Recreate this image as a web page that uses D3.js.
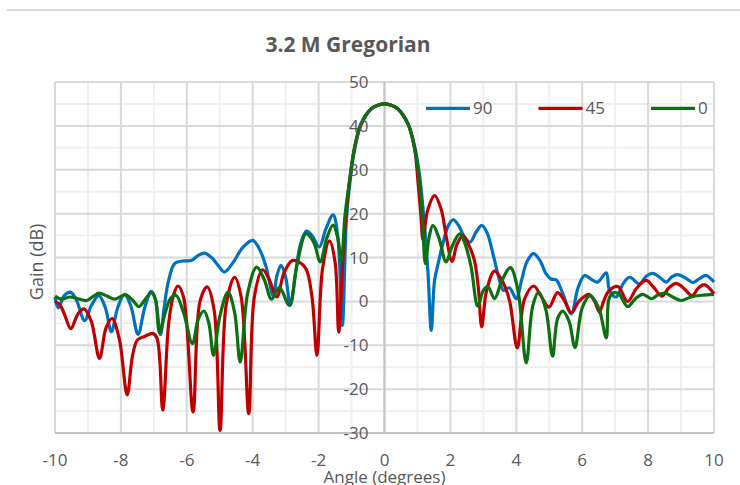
<!DOCTYPE html>
<html>
<head>
<meta charset="utf-8">
<script src="https://cdn.jsdelivr.net/npm/d3@7"></script>
<style>
  body { margin: 0; background: #fff; }
  text { font-family: "Open Sans", sans-serif; fill: #595959; }
</style>
</head>
<body>
<div id="wrapper"></div>
<script>
// angle (deg), gain (dB)
const series90 = [
  [-10.0, 1.0], [-9.9, -1.5], [-9.72, 1.3], [-9.53, 2.1], [-9.35, 0.3], [-9.1, -4.4],
  [-8.9, -1.0], [-8.67, 1.3], [-8.47, -1.5], [-8.29, -6.9], [-8.1, -1.5], [-7.89, 1.6],
  [-7.7, -1.0], [-7.48, -7.5], [-7.28, -1.5], [-7.08, 2.3], [-6.95, 0.3], [-6.8, -7.6],
  [-6.68, -1.0], [-6.56, 4.5], [-6.37, 8.6], [-6.12, 9.2], [-5.87, 9.3], [-5.65, 10.5],
  [-5.46, 11.0], [-5.25, 10.0], [-5.06, 8.3], [-4.86, 6.7], [-4.6, 8.8], [-4.3, 12.3],
  [-4.0, 13.9], [-3.8, 12.0], [-3.59, 7.8], [-3.38, 1.3], [-3.26, 6.0], [-3.14, 8.2],
  [-3.0, 5.5], [-2.86, -0.9], [-2.7, 6.5], [-2.55, 13.0], [-2.37, 16.0], [-2.2, 15.0],
  [-1.98, 12.4], [-1.78, 16.5], [-1.56, 19.7], [-1.42, 15.0], [-1.28, -5.5], [-1.16, 18.0],
  [-1.06, 26.5], [-0.91, 34.5], [-0.71, 40.3], [-0.4, 43.9], [-0.2, 44.7], [0, 45.0],
  [0.2, 44.7], [0.4, 43.9], [0.71, 40.5], [0.91, 35.5], [1.06, 29.0], [1.2, 18.5],
  [1.32, 6.5], [1.42, -6.6], [1.52, 4.8], [1.64, 9.0], [1.8, 14.0], [1.95, 17.5],
  [2.09, 18.6], [2.25, 17.3], [2.43, 14.6], [2.6, 13.5], [2.78, 15.8], [2.96, 17.3],
  [3.12, 15.5], [3.29, 10.9], [3.49, 4.8], [3.61, 2.5], [3.79, 3.1], [4.0, 0.6],
  [4.15, 4.5], [4.32, 9.0], [4.52, 10.9], [4.72, 9.3], [4.9, 6.3], [5.05, 5.1],
  [5.21, 4.9], [5.4, 2.0], [5.67, -2.8], [5.87, 3.0], [6.07, 5.9], [6.28, 5.0],
  [6.47, 4.4], [6.73, 6.5], [6.83, 2.5], [7.03, 1.0], [7.24, 4.0], [7.44, 5.5],
  [7.74, 4.0], [7.95, 5.8], [8.14, 6.4], [8.35, 5.5], [8.55, 4.4], [8.72, 5.6],
  [8.9, 6.1], [9.12, 5.4], [9.36, 4.3], [9.56, 5.2], [9.76, 5.9], [10.0, 4.4]
]

const series45 = [
  [-10.0, 0.0], [-9.85, -0.8], [-9.7, -3.2], [-9.52, -6.2], [-9.3, -2.8], [-9.12, -1.7],
  [-8.9, -4.5], [-8.65, -13.0], [-8.45, -6.0], [-8.27, -3.9], [-8.05, -8.5], [-7.81, -21.3],
  [-7.65, -12.5], [-7.5, -8.8], [-7.28, -8.0], [-7.03, -7.3], [-6.9, -8.5], [-6.73, -24.8],
  [-6.55, -5.0], [-6.4, 1.5], [-6.27, 3.5], [-6.1, 1.0], [-5.81, -25.2], [-5.6, 0.0],
  [-5.38, 3.3], [-5.17, -2.0], [-4.99, -29.4], [-4.8, -0.5], [-4.55, 5.5], [-4.35, 1.0],
  [-4.12, -25.6], [-3.95, 1.0], [-3.7, 7.2], [-3.5, 5.0], [-3.27, 1.0], [-3.05, 6.5],
  [-2.8, 9.3], [-2.6, 9.0], [-2.38, 7.4], [-2.2, 1.0], [-2.05, -12.3], [-1.88, 7.5],
  [-1.67, 13.8], [-1.5, 9.0], [-1.39, -7.0], [-1.27, 8.6], [-1.16, 20.5], [-1.06, 27.5],
  [-0.91, 35.0], [-0.71, 40.5], [-0.4, 43.9], [-0.2, 44.7], [0, 45.0], [0.2, 44.7],
  [0.4, 43.9], [0.71, 40.5], [0.91, 35.0], [1.02, 27.0], [1.1, 20.0], [1.17, 14.0],
  [1.3, 20.5], [1.52, 24.1], [1.72, 21.0], [1.88, 14.5], [2.05, 9.1], [2.2, 13.0],
  [2.38, 15.0], [2.55, 13.0], [2.73, 9.3], [2.85, 3.0], [2.95, -5.8], [3.1, 2.5],
  [3.34, 6.9], [3.6, 4.3], [3.8, 0.0], [4.03, -10.6], [4.25, 0.5], [4.53, 3.5],
  [4.75, 1.2], [4.99, -1.3], [5.25, 2.0], [5.45, 0.3], [5.67, -2.6], [5.9, 0.0],
  [6.2, 1.6], [6.38, 0.0], [6.52, -2.4], [6.66, 0.2], [6.8, 2.3], [7.08, 3.4],
  [7.38, 0.0], [7.65, 3.0], [7.94, 4.8], [8.17, 3.2], [8.42, 1.2], [8.62, 3.0],
  [8.85, 4.1], [9.08, 3.0], [9.34, 1.3], [9.52, 3.0], [9.71, 3.8], [10.0, 1.7]
]

const series0 = [
  [-10.0, 1.2], [-9.8, 0.5], [-9.55, 1.0], [-9.3, 0.6], [-9.04, 0.2], [-8.83, 1.2],
  [-8.66, 1.9], [-8.42, 1.2], [-8.18, 0.5], [-7.86, 1.5], [-7.65, 0.3], [-7.45, -1.2],
  [-7.25, 0.6], [-7.06, 2.0], [-6.95, 0.5], [-6.83, -7.0], [-6.65, -2.5], [-6.5, 0.6],
  [-6.33, 1.4], [-6.1, -2.5], [-5.83, -9.6], [-5.65, -4.0], [-5.48, -2.2], [-5.33, -5.0],
  [-5.19, -12.3], [-5.0, -3.5], [-4.75, 2.1], [-4.55, -2.5], [-4.38, -13.8], [-4.15, 2.0],
  [-3.88, 7.8], [-3.65, 5.0], [-3.43, 0.5], [-3.19, 3.2], [-2.89, -0.9], [-2.65, 8.5],
  [-2.38, 15.4], [-2.15, 13.5], [-1.95, 9.0], [-1.75, 14.5], [-1.56, 17.4], [-1.42, 14.5],
  [-1.31, 9.0], [-1.2, 19.5], [-1.06, 27.5], [-0.91, 35.0], [-0.71, 40.5], [-0.4, 43.9],
  [-0.2, 44.7], [0, 45.0], [0.2, 44.7], [0.4, 43.9], [0.71, 40.5], [0.91, 35.0],
  [1.06, 27.5], [1.15, 19.0], [1.24, 8.6], [1.35, 14.5], [1.47, 17.3], [1.65, 14.5],
  [1.87, 9.0], [2.05, 12.5], [2.28, 15.4], [2.45, 13.0], [2.63, 7.8], [2.83, -1.1],
  [3.0, 2.5], [3.14, 3.3], [3.34, 0.6], [3.55, 4.5], [3.82, 7.7], [4.05, 2.5],
  [4.3, -14.0], [4.5, -1.0], [4.68, 2.1], [4.9, -2.0], [5.1, -12.5], [5.25, -4.0],
  [5.41, -2.2], [5.6, -4.5], [5.78, -10.5], [6.0, -1.5], [6.24, 1.3], [6.5, -1.5],
  [6.73, -8.3], [6.81, 0.5], [6.93, 1.9], [7.1, 1.8], [7.38, -1.2], [7.6, 0.5],
  [7.84, 1.6], [8.1, 0.6], [8.3, 1.5], [8.52, 1.9], [8.75, 1.0], [9.0, 0.2],
  [9.3, 1.0], [9.62, 1.4], [10.0, 1.6]
]

const seriesNames = ["90", "45", "0"]
const seriesColors = ["#0070c0", "#c00000", "#0b700f"]
const xTicks = [-10, -8, -6, -4, -2, 0, 2, 4, 6, 8, 10]
const yTicks = [-30, -20, -10, 0, 10, 20, 30, 40, 50]

const dimensions = {
  width: 740,
  height: 485,
  margins: { top: 82, right: 26, bottom: 52, left: 55 }
}
dimensions.boundedWidth = dimensions.width - dimensions.margins.left - dimensions.margins.right
dimensions.boundedHeight = dimensions.height - dimensions.margins.top - dimensions.margins.bottom

const wrapper = d3.select("#wrapper")
  .append("svg")
    .attr("width", dimensions.width)
    .attr("height", dimensions.height)

// top border of the chart frame
wrapper.append("line")
  .attr("x1", 7).attr("x2", 740)
  .attr("y1", 10).attr("y2", 10)
  .attr("stroke", "#d9d9d9")
  .attr("stroke-width", 2)

wrapper.append("text")
  .attr("x", 348)
  .attr("y", 52)
  .attr("text-anchor", "middle")
  .style("font-size", "21px")
  .style("font-weight", "bold")
  .text("3.2 M Gregorian")

const bounds = wrapper.append("g")
  .attr("transform", `translate(${dimensions.margins.left}, ${dimensions.margins.top})`)

const xScale = d3.scaleLinear()
  .domain([-10, 10])
  .range([0, dimensions.boundedWidth])

const yScale = d3.scaleLinear()
  .domain([-30, 50])
  .range([dimensions.boundedHeight, 0])

// gridlines: minor first, then major
const minorX = d3.range(-9, 10, 2)
const minorY = d3.range(-25, 50, 10)

bounds.append("g").selectAll("line")
  .data(minorX)
  .join("line")
    .attr("x1", d => xScale(d)).attr("x2", d => xScale(d))
    .attr("y1", 0).attr("y2", dimensions.boundedHeight)
    .attr("stroke", "#efefef").attr("stroke-width", 2)

bounds.append("g").selectAll("line")
  .data(minorY)
  .join("line")
    .attr("x1", 0).attr("x2", dimensions.boundedWidth)
    .attr("y1", d => yScale(d)).attr("y2", d => yScale(d))
    .attr("stroke", "#efefef").attr("stroke-width", 2)

bounds.append("g").selectAll("line")
  .data(xTicks)
  .join("line")
    .attr("x1", d => xScale(d)).attr("x2", d => xScale(d))
    .attr("y1", 0).attr("y2", dimensions.boundedHeight)
    .attr("stroke", "#d9d9d9").attr("stroke-width", 2)

bounds.append("g").selectAll("line")
  .data(yTicks)
  .join("line")
    .attr("x1", 0).attr("x2", dimensions.boundedWidth)
    .attr("y1", d => yScale(d)).attr("y2", d => yScale(d))
    .attr("stroke", "#d9d9d9").attr("stroke-width", 2)

// axes lines
bounds.append("line")
  .attr("x1", xScale(0)).attr("x2", xScale(0))
  .attr("y1", 0).attr("y2", dimensions.boundedHeight)
  .attr("stroke", "#c4c4c4").attr("stroke-width", 2)

bounds.append("line")
  .attr("x1", 0).attr("x2", dimensions.boundedWidth)
  .attr("y1", dimensions.boundedHeight).attr("y2", dimensions.boundedHeight)
  .attr("stroke", "#c4c4c4").attr("stroke-width", 2)

// lines
const lineGenerator = d3.line()
  .x(d => xScale(d[0]))
  .y(d => yScale(d[1]))
  .curve(d3.curveCatmullRom.alpha(0.5))

const allSeries = [series90, series45, series0]

bounds.append("g").selectAll("path")
  .data(allSeries)
  .join("path")
    .attr("d", lineGenerator)
    .attr("fill", "none")
    .attr("stroke", (d, i) => seriesColors[i])
    .attr("stroke-width", 3.2)
    .attr("stroke-linejoin", "round")

// tick labels (y labels sit next to the x = 0 axis)
bounds.append("g").selectAll("text")
  .data(yTicks)
  .join("text")
    .attr("x", xScale(0) - 16)
    .attr("y", d => yScale(d) + 6)
    .attr("text-anchor", "end")
    .style("font-size", "17px")
    .text(d => d)

bounds.append("g").selectAll("text")
  .data(xTicks)
  .join("text")
    .attr("x", d => xScale(d))
    .attr("y", dimensions.boundedHeight + 33)
    .attr("text-anchor", "middle")
    .style("font-size", "17px")
    .text(d => d)

bounds.append("text")
  .attr("x", xScale(0))
  .attr("y", dimensions.boundedHeight + 50)
  .attr("text-anchor", "middle")
  .style("font-size", "17px")
  .text("Angle (degrees)")

bounds.append("text")
  .attr("transform", `translate(${-12}, ${yScale(9)}) rotate(-90)`)
  .attr("text-anchor", "middle")
  .style("font-size", "18px")
  .text("Gain (dB)")

// legend
const legend = bounds.append("g")
  .selectAll("g")
  .data(seriesNames)
  .join("g")
    .attr("transform", (d, i) => `translate(${371 + i * 112.5}, ${yScale(44)})`)

legend.append("line")
  .attr("x1", 0).attr("x2", 44)
  .attr("stroke", (d, i) => seriesColors[i])
  .attr("stroke-width", 3.2)

legend.append("text")
  .attr("x", 47)
  .attr("y", 6)
  .style("font-size", "17px")
  .text(d => d)
</script>
</body>
</html>
